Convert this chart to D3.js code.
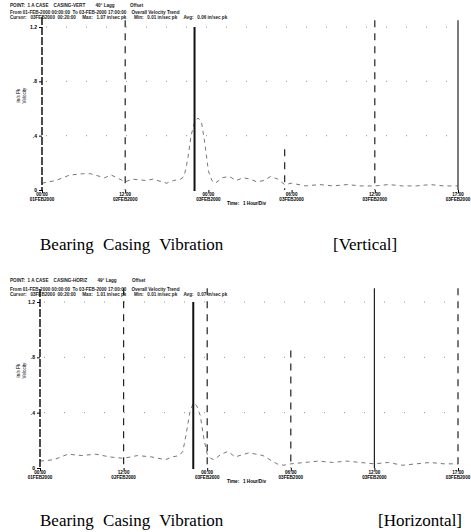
<!DOCTYPE html>
<html>
<head>
    <meta charset='utf-8'>
    <title>Bearing Casing Vibration</title>
    <script type='text/javascript' src='https://cdn.jsdelivr.net/npm/d3@7'></script>
    <style>
        body { margin: 0; background: #fff; }
    </style>
</head>
<body>
    <svg width='471' height='532'></svg>
    <script type='text/javascript'>

        // time axis (hours from start of record) and amplitude ticks
        const timeTicks = [0, 12, 24, 36, 48, 60]
        const tickTimes = ['00:00', '12:00', '00:00', '06:00', '12:00', '17:00']
        const tickDates = ['01FEB2000', '02FEB2000', '03FEB2000', '03FEB2000', '03FEB2000', '03FEB2000']
        const ampTicks = [0, 0.4, 0.8, 1.2]
        const ampLabels = ['0', '.4', '.8', '1.2']

        // vertical trend
        const vertHours = [0, 2, 4, 6, 7, 9, 10, 12, 13, 15, 16, 18, 19, 20, 20.5, 21, 21.5, 22, 22.5, 23, 23.5, 24, 24.5, 25, 26, 27, 28, 29, 30, 31, 32, 33, 34, 35, 36, 38, 40, 42, 44, 46, 48, 50, 52, 54, 56, 58, 60]
        const vertValues = [0.05, 0.07, 0.11, 0.12, 0.12, 0.09, 0.11, 0.06, 0.08, 0.07, 0.08, 0.05, 0.07, 0.08, 0.1, 0.22, 0.4, 0.5, 0.53, 0.5, 0.34, 0.14, 0.07, 0.05, 0.09, 0.1, 0.07, 0.09, 0.08, 0.06, 0.07, 0.1, 0.08, 0.04, 0.05, 0.03, 0.04, 0.03, 0.04, 0.03, 0.03, 0.04, 0.03, 0.03, 0.04, 0.03, 0.03]

        // horizontal trend
        const horzHours = [0, 2, 4, 6, 8, 10, 12, 14, 16, 18, 19, 20, 20.5, 21, 21.5, 22, 22.5, 23, 23.5, 24, 24.5, 25, 26, 27, 28, 30, 31, 32, 33, 34, 35, 36, 38, 40, 42, 44, 46, 48, 50, 52, 54, 56, 58, 60]
        const horzValues = [0.05, 0.06, 0.1, 0.09, 0.1, 0.08, 0.07, 0.09, 0.08, 0.06, 0.08, 0.09, 0.12, 0.25, 0.4, 0.47, 0.45, 0.38, 0.22, 0.1, 0.07, 0.06, 0.1, 0.12, 0.08, 0.11, 0.1, 0.09, 0.06, 0.03, 0.02, 0.03, 0.04, 0.05, 0.04, 0.05, 0.04, 0.03, 0.04, 0.02, 0.03, 0.04, 0.03, 0.03]

        const panels = [
            {
                hours: vertHours, values: vertValues,
                top: 17, y0: 190, yTop: 27, left: 42, right: 458,
                cursor: 22, dashed: [[12, 1.25], [35, 0.3], [48, 1.25]], solid: [[60, 1.25]],
                header: ['POINT:  1 A CASE    CASING-VERT        40° Lagg            Offset',
                    'From 01-FEB-2000 00:00:00  To 03-FEB-2000 17:00:00    Overall Velocity Trend',
                    'Cursor:   03FEB2000  00:20:00     Max:   1.07 in/sec pk      Min:   0.01 in/sec pk     Avg:   0.06 in/sec pk'],
                headerY: [7, 14, 19],
                caption: 'Bearing Casing Vibration', tag: '[Vertical]', captionY: 250, tagX: 333
            },
            {
                hours: horzHours, values: horzValues,
                top: 289, y0: 468, yTop: 302, left: 40, right: 458,
                cursor: 22, dashed: [[12, 1.3], [24, 1.3], [36, 0.85], [60, 1.3]], solid: [[48, 1.3]],
                header: ['POINT:  1 A CASE    CASING-HORIZ        49° Lagg            Offset',
                    'From 01-FEB-2000 00:00:00  To 03-FEB-2000 17:00:00    Overall Velocity Trend',
                    'Cursor:   03FEB2000  00:20:00     Max:   1.01 in/sec pk      Min:   0.01 in/sec pk     Avg:   0.07 in/sec pk'],
                headerY: [282, 291, 296],
                caption: 'Bearing Casing Vibration', tag: '[Horizontal]', captionY: 526, tagX: 378
            }
        ]

        const svg = d3.select('svg')
        svg.append('rect').attr('width', 471).attr('height', 532).attr('fill', '#fff')

        panels.forEach(p => drawPanel(p))

        function drawPanel(p) {
            const x = d3.scaleLinear().domain([0, 60]).range([p.left, p.right])
            const y = d3.scaleLinear().domain([0, 1.2]).range([p.y0, p.yTop])
            const g = svg.append('g')

            // header lines
            g.selectAll('.hdr').data(p.header).enter().append('text')
                .attr('x', 10).attr('y', (d, i) => p.headerY[i])
                .style('font-family', 'Liberation Sans, Arial, sans-serif')
                .style('font-size', '4.6px').style('font-weight', 'bold').style('fill', '#222')
                .style('white-space', 'pre')
                .text(d => d)

            // dotted grid rows
            g.selectAll('.grid').data(ampTicks.slice(1)).enter().append('line')
                .attr('x1', p.left + 4).attr('x2', p.right)
                .attr('y1', d => y(d)).attr('y2', d => y(d))
                .attr('stroke', '#777').attr('stroke-width', 0.8)
                .attr('stroke-dasharray', '1,19')

            // reference lines
            g.selectAll('.dash').data(p.dashed).enter().append('line')
                .attr('x1', d => x(d[0])).attr('x2', d => x(d[0]))
                .attr('y1', d => y(d[1])).attr('y2', p.y0)
                .attr('stroke', '#222').attr('stroke-width', 1.2)
                .attr('stroke-dasharray', '7,6')
            g.selectAll('.solid').data(p.solid).enter().append('line')
                .attr('x1', d => x(d[0])).attr('x2', d => x(d[0]))
                .attr('y1', d => y(d[1])).attr('y2', p.y0)
                .attr('stroke', '#222').attr('stroke-width', 1.2)

            // trend trace
            const line = d3.line().x((d, i) => x(p.hours[i])).y(d => y(d))
            g.append('path').datum(p.values)
                .attr('d', line)
                .attr('fill', 'none').attr('stroke', '#666').attr('stroke-width', 0.9)
                .attr('stroke-dasharray', '4,4')

            // cursor
            g.append('line')
                .attr('x1', x(p.cursor)).attr('x2', x(p.cursor))
                .attr('y1', y(1.2)).attr('y2', p.y0 + 1)
                .attr('stroke', '#111').attr('stroke-width', 2)

            // left axis
            g.append('line')
                .attr('x1', p.left).attr('x2', p.left).attr('y1', p.top).attr('y2', p.y0)
                .attr('stroke', '#111').attr('stroke-width', 1.5).attr('stroke-dasharray', '8,2')
            const yAxis = d3.axisLeft(y).tickValues(ampTicks).tickSize(3).tickFormat((d, i) => ampLabels[i])
            const ya = g.append('g').attr('transform', `translate(${p.left},0)`).call(yAxis)
            ya.select('.domain').remove()
            ya.selectAll('text').style('font-family', 'Liberation Sans, Arial, sans-serif')
                .style('font-size', '5px').style('font-weight', 'bold').attr('dx', '1')

            // y title
            g.append('text')
                .attr('transform', `translate(20,${(p.y0 + p.top) / 2 - 8}) rotate(-90)`)
                .attr('text-anchor', 'middle')
                .style('font-family', 'Liberation Sans, Arial, sans-serif').style('font-size', '4.6px')
                .text('in/s  Pk')
            g.append('text')
                .attr('transform', `translate(26,${(p.y0 + p.top) / 2 - 8}) rotate(-90)`)
                .attr('text-anchor', 'middle')
                .style('font-family', 'Liberation Sans, Arial, sans-serif').style('font-size', '4.6px')
                .text('Velocity')

            // bottom axis labels
            const xAxis = d3.axisBottom(x).tickValues(timeTicks).tickSize(3).tickFormat('')
            const xa = g.append('g').attr('transform', `translate(0,${p.y0})`).call(xAxis)
            xa.select('.domain').remove()
            const lab = g.selectAll('.xl').data(timeTicks).enter().append('text')
                .attr('x', d => x(d)).attr('y', p.y0 + 6)
                .attr('text-anchor', 'middle')
                .style('font-family', 'Liberation Sans, Arial, sans-serif')
                .style('font-size', '4.6px').style('font-weight', 'bold')
            lab.append('tspan').attr('x', d => x(d)).text((d, i) => tickTimes[i])
            lab.append('tspan').attr('x', d => x(d)).attr('dy', 5).text((d, i) => tickDates[i])

            g.append('text')
                .attr('x', 227).attr('y', p.y0 + 15)
                .style('font-family', 'Liberation Sans, Arial, sans-serif')
                .style('font-size', '4.6px').style('font-weight', 'bold')
                .style('white-space', 'pre')
                .text('Time:   1 Hour/Div')

            // caption
            g.append('text')
                .attr('x', 40).attr('y', p.captionY)
                .style('font-family', 'Liberation Serif, Times New Roman, serif')
                .style('font-size', '17px').style('word-spacing', '5px')
                .text(p.caption)
            g.append('text')
                .attr('x', p.tagX).attr('y', p.captionY)
                .style('font-family', 'Liberation Serif, Times New Roman, serif')
                .style('font-size', '17px')
                .text(p.tag)
        }
    </script>
</body>
</html>
